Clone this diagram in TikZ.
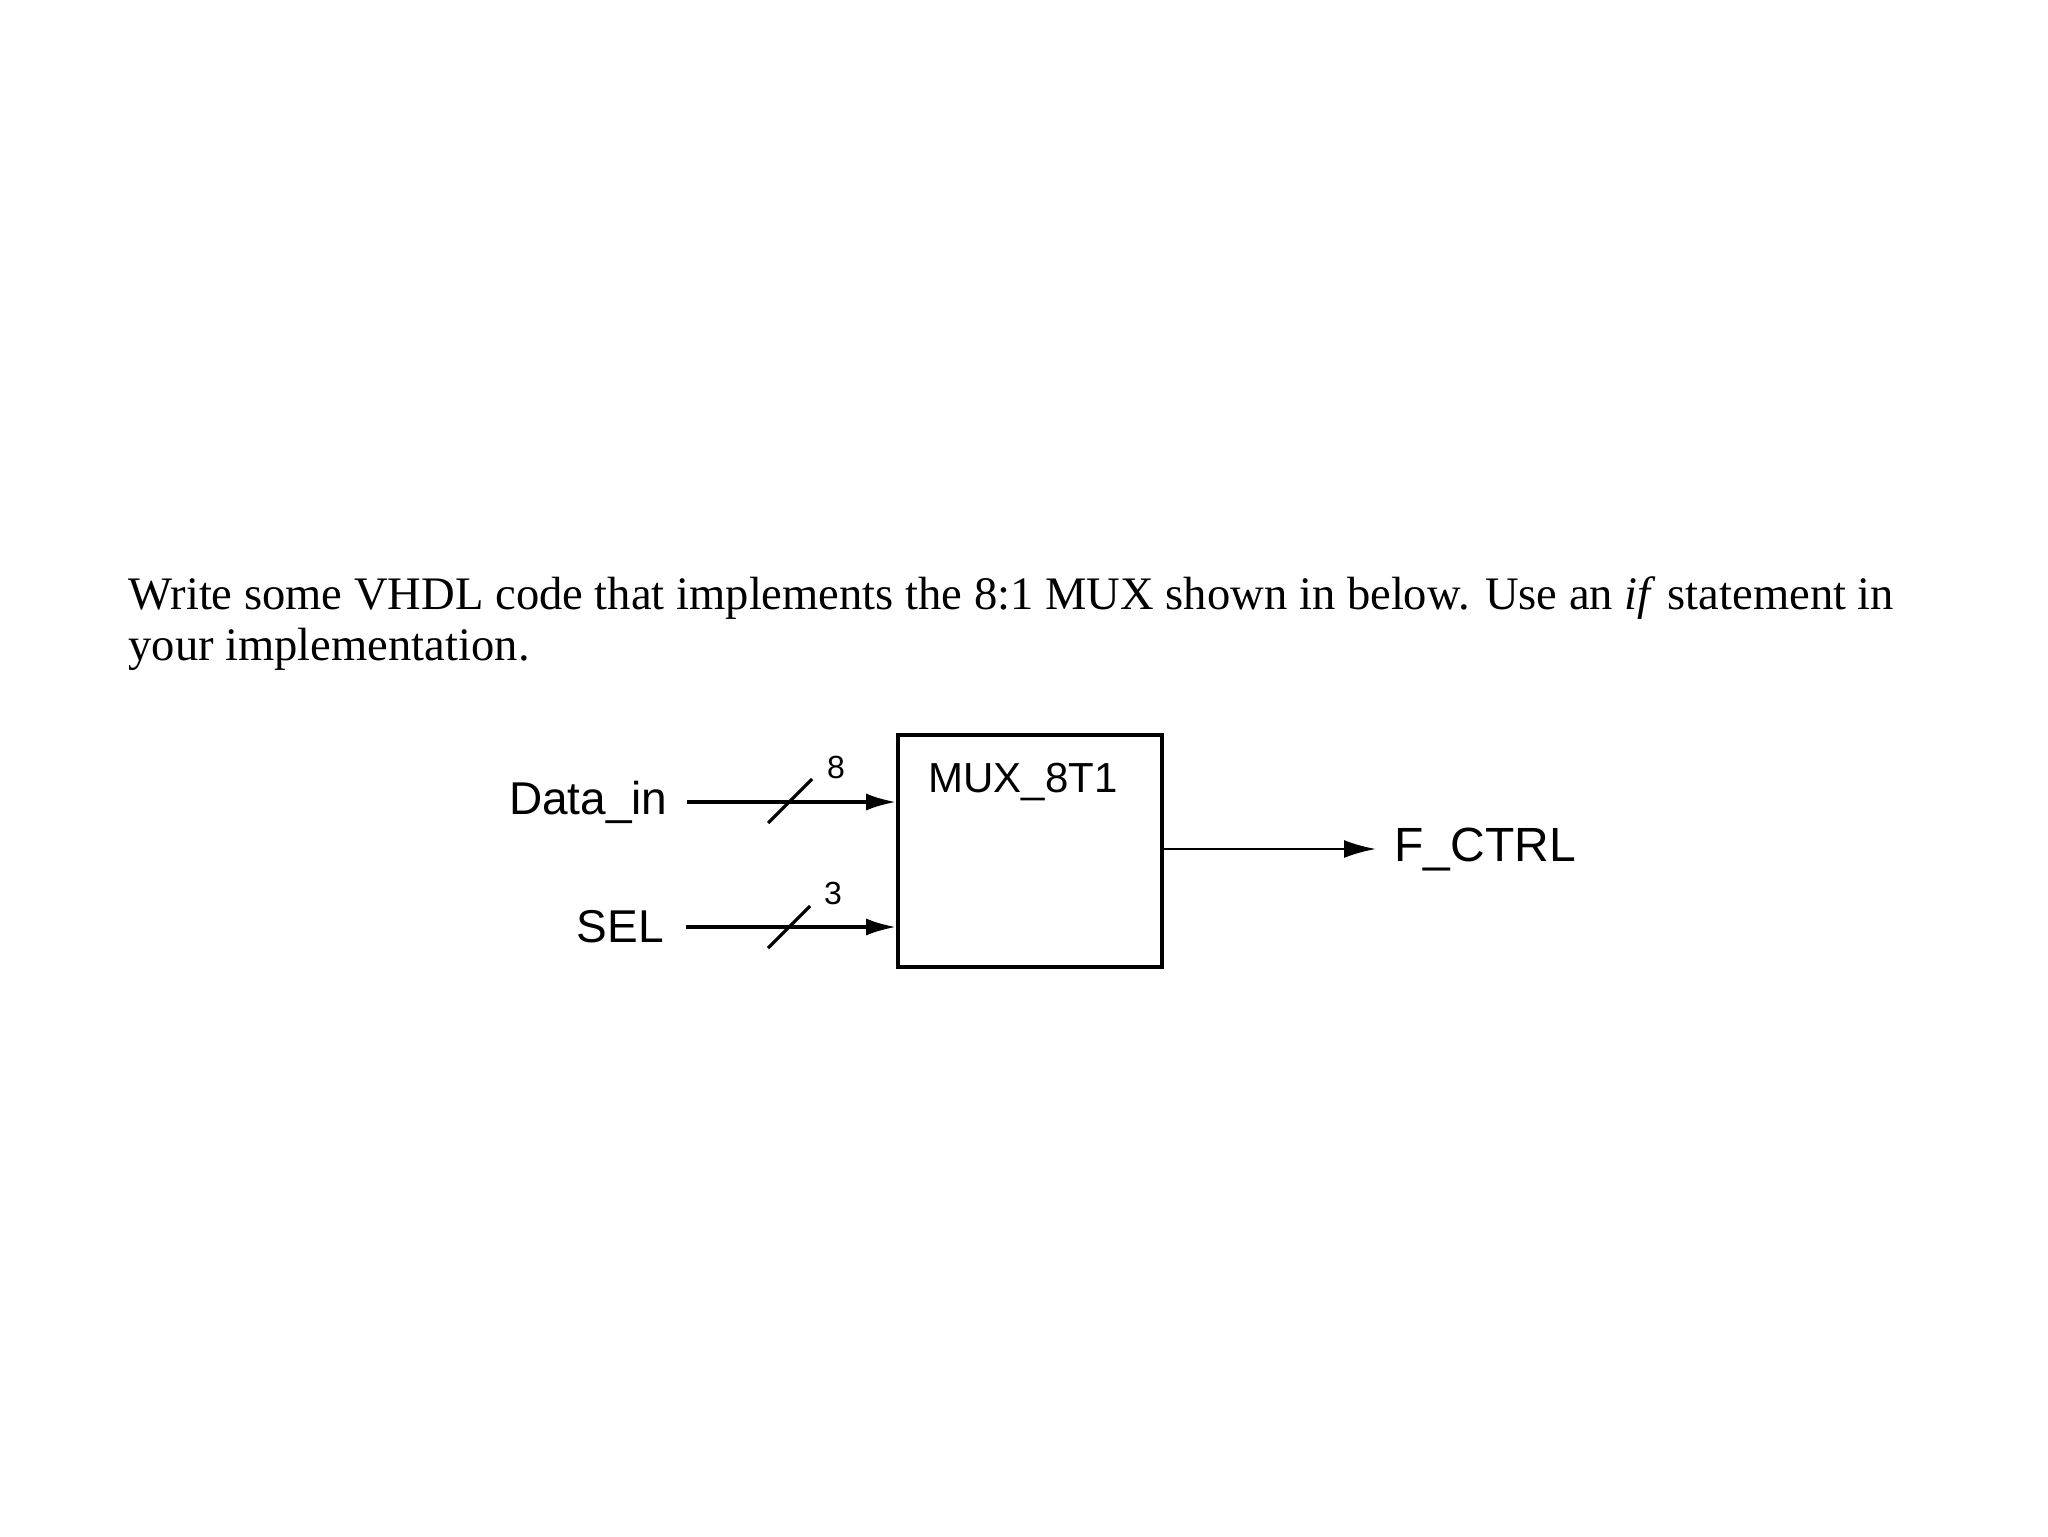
\documentclass[tikz,border=0pt]{standalone}
\usepackage{fontspec}
\setmainfont{Liberation Serif}
\newfontfamily\diagfont{Liberation Sans}
\usetikzlibrary{arrows.meta}

\begin{document}
\begin{tikzpicture}[x=.5pt,y=.5pt,
  txt/.style={anchor=base west,inner sep=0pt,font=\fontsize{23.3}{25.5}\selectfont},
  lbl/.style={font=\diagfont\fontsize{23}{27}\selectfont},
  bus/.style={line width=1.8pt,-{Latex[length=15pt,width=8.5pt]}},
  tick/.style={line width=1.6pt}]
\path[fill=white,use as bounding box] (0,0) rectangle (2048,-1536);
% question text
\node[txt] (q1) at (128,-609) {Write some VHDL code that implements the 8:1 MUX shown in below. Use an \textit{if} statement in};
\node[txt] (q2) at (128,-660) {your implementation.};
% the mux block
\node[draw,line width=1.8pt,minimum width=132pt,minimum height=116pt,inner sep=0pt] (mux) at (1030,-851) {};
\node[lbl,font=\diagfont\fontsize{21}{25}\selectfont] (muxname) at (1023,-782) {MUX\_8T1};
\node[lbl,anchor=east,inner xsep=9.5pt] (din) at (687,-802) {Data\_in};
\node[lbl,anchor=east,inner xsep=11pt] (sel) at (686,-927) {SEL};
\node[lbl,anchor=west,inner xsep=9pt,font=\diagfont\fontsize{24}{28}\selectfont] (fctrl) at (1376,-849) {F\_CTRL};
\draw[bus] (din.east) -- (din.east -| mux.west);
\draw[bus] (sel.east) -- (sel.east -| mux.west);
\draw[line width=1.4pt,-{Latex[length=16pt,width=9pt]}] (mux.east |- fctrl.west) -- (fctrl.west);
% bus widths
\draw[tick] (768,-823) -- (812,-779);
\node[font=\diagfont\fontsize{16}{19}\selectfont] (w8) at (836,-767) {8};
\draw[tick] (768,-948) -- (810,-906);
\node[font=\diagfont\fontsize{16}{19}\selectfont] (w3) at (833,-893) {3};
\end{tikzpicture}
\end{document}
